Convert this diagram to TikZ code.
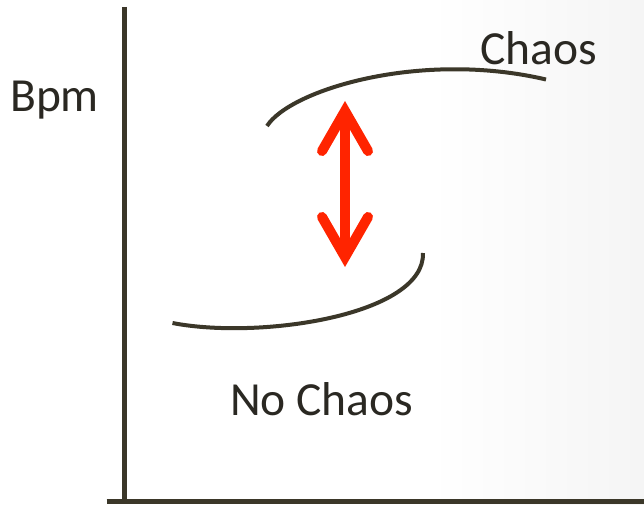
\documentclass[tikz,border=0pt]{standalone}
\usepackage{fontspec}
\setmainfont{Carlito}
\usetikzlibrary{arrows.meta}
\definecolor{axisgray}{RGB}{59,55,41}
\definecolor{labelgray}{RGB}{42,40,34}
\definecolor{arrowred}{RGB}{255,36,0}
\tikzstyle{axis} = [draw=axisgray, line width=5pt]
\tikzstyle{branch} = [draw=axisgray, line width=4pt]
\tikzstyle{axislabel} = [text=labelgray, font=\fontsize{47.5}{52}\selectfont, anchor=base west, inner sep=0pt]
\tikzset{jumptip/.tip={Straight Barb[length=40pt, width=46pt, line cap=round, line join=miter]}}
\tikzstyle{jump} = [draw=arrowred, line width=10pt, jumptip-jumptip]

\begin{document}
\begin{tikzpicture}[x=1pt, y=-1pt]
        \useasboundingbox (0,0) rectangle (644,505);
        \fill[white] (0,0) rectangle (644,505);
        \shade[left color=white, right color=black!4] (430,0) rectangle (644,505);

        % axes
        \coordinate (ytop) at (124.5,7);
        \coordinate (origin) at (124.5,501.5);
        \coordinate (xend) at (644,501.5);
        \coordinate (xstart) at (106.5,501.5);
        \draw[axis] (ytop) -- (origin);
        \draw[axis] (xstart) -- (xend);

        % labels
        \node[axislabel] (bpm) at (10,112) {Bpm};
        \node[axislabel] (chaos) at (480,65) {Chaos};
        \node[axislabel] (nochaos) at (230,415) {No Chaos};

        % two branches
        \coordinate (upstart) at (267,126);
        \coordinate (upend) at (546,79.5);
        \coordinate (lowstart) at (172.5,323);
        \coordinate (lowend) at (423,253);
        \draw[branch] (upstart) .. controls (290,90) and (420,50) .. (upend);
        \draw[branch] (lowstart) .. controls (260,340) and (425,315) .. (lowend);

        % jump between them
        \coordinate (jumptop) at (345,101);
        \coordinate (jumpbot) at (345,267);
        \draw[jump] (jumpbot) -- (jumptop);
    \end{tikzpicture}
\end{document}
